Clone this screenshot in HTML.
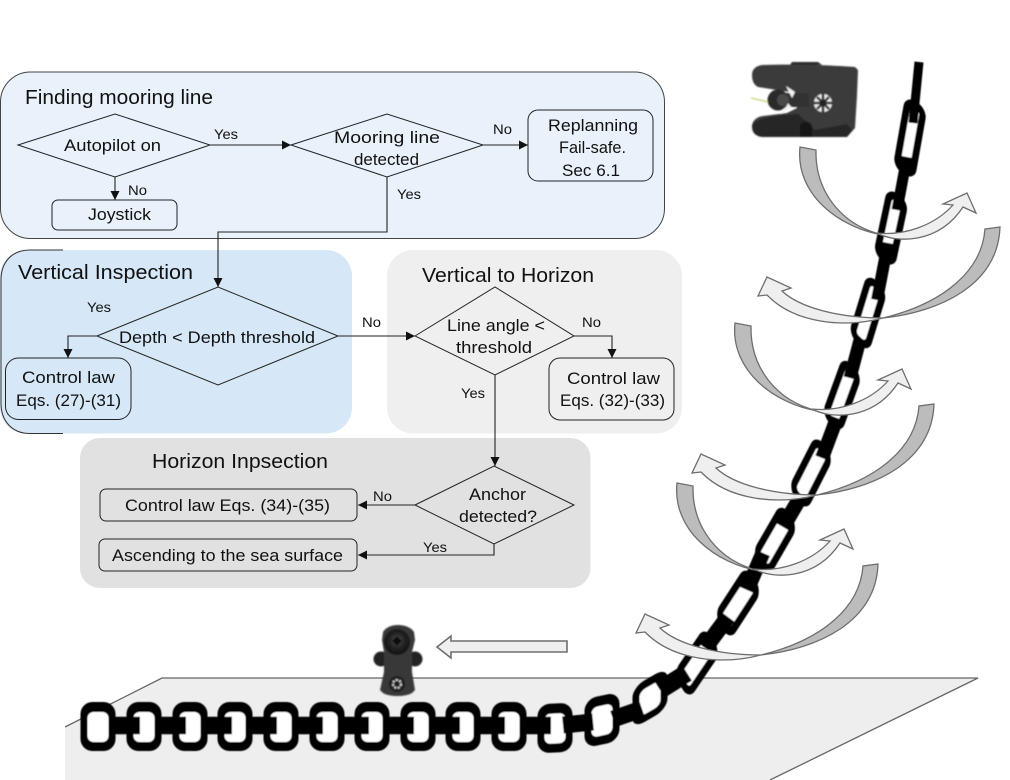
<!DOCTYPE html>
<html><head><meta charset="utf-8"><style>
html,body{margin:0;padding:0;background:#fff;width:1010px;height:780px;overflow:hidden}
svg{display:block}
text{font-family:"Liberation Sans",sans-serif;fill:#111}
.t{font-size:20px}.b{font-size:17px}.s{font-size:14px}
</style></head><body>
<svg width="1010" height="780" viewBox="0 0 1010 780" xmlns="http://www.w3.org/2000/svg">
<defs>
<marker id="a" markerWidth="10" markerHeight="10" refX="9" refY="4.5" orient="auto" markerUnits="userSpaceOnUse"><path d="M0,0L9,4.500L0,9Z" fill="#111"/></marker>
<filter id="soft" x="-5%" y="-5%" width="110%" height="110%"><feGaussianBlur stdDeviation="0.55"/></filter>
<filter id="soft2" x="-10%" y="-10%" width="120%" height="120%"><feGaussianBlur stdDeviation="0.7"/></filter>
<radialGradient id="cam" cx="50%" cy="45%" r="55%"><stop offset="0" stop-color="#5a5a5a"/><stop offset="0.5" stop-color="#242424"/><stop offset="1" stop-color="#111"/></radialGradient>
<g id="hl">
<rect x="-17.500" y="-24.500" width="35" height="49" rx="12" fill="#000"/>
<rect x="-10.500" y="-14.500" width="21" height="30" rx="6" fill="#fff"/>
</g>
<g id="arrowR">
<path d="M883,235C840,228 795,195 800,147L816,150C815,190 840,225 883,235Z" fill="#bcbcbc" stroke="#6e6e6e" stroke-width="1.300"/>
<path d="M877,233C895,243 938,245 963,207L976,213L967,193L943,204L953,205C935,225 905,236 877,233Z" fill="#efefef" stroke="#6e6e6e" stroke-width="1.300"/>
</g>
<g id="arrowL">
<path d="M883,318C940,312 998,285 1000,227L985,229C982,270 945,303 883,318Z" fill="#bcbcbc" stroke="#6e6e6e" stroke-width="1.300"/>
<path d="M883,318C845,328 795,324 767,295L758,296L767,277L791,288L782,291C800,308 840,318 883,318Z" fill="#efefef" stroke="#6e6e6e" stroke-width="1.300"/>
</g>
</defs>

<!-- floor -->
<path d="M65,727L162,678H978L770,780H65Z" fill="#eeeeee"/>
<path d="M65,727L162,678H978L770,780" fill="none" stroke="#666" stroke-width="1.300"/>

<!-- panels -->
<rect x="0.500" y="72" width="664" height="166.500" rx="30" fill="#e9f2fa" stroke="#444" stroke-width="1"/>
<rect x="0" y="250" width="352" height="183.500" rx="26" fill="#d6e8f7"/>
<path d="M63,250H30C12,250 1,262 1,280V403C1,421 12,433.500 30,433.500H63" fill="none" stroke="#333" stroke-width="1"/>
<rect x="387" y="250" width="295" height="183.500" rx="26" fill="#efefef"/>
<rect x="80" y="438" width="510.500" height="150" rx="20" fill="#e1e1e1"/>

<!-- connectors -->
<g fill="none" stroke="#222" stroke-width="1.100">
<path d="M210,145H291" marker-end="url(#a)"/>
<path d="M483,145H528" marker-end="url(#a)"/>
<path d="M115,177V200" marker-end="url(#a)"/>
<path d="M387,177V232H218V287" marker-end="url(#a)"/>
<path d="M97,336H68V358" marker-end="url(#a)"/>
<path d="M338,336H415" marker-end="url(#a)"/>
<path d="M574,336H612V358" marker-end="url(#a)"/>
<path d="M495,375V466" marker-end="url(#a)"/>
<path d="M415,505H358" marker-end="url(#a)"/>
<path d="M494,544V555H358" marker-end="url(#a)"/>
</g>

<!-- diamonds and boxes -->
<g fill="none" stroke="#222" stroke-width="1">
<path d="M18,145L115,114L210,145L115,177Z"/>
<path d="M291,145L387,114L483,145L387,177Z"/>
<path d="M97,336L218,287L338,336L218,385Z"/>
<path d="M415,336L495,287L574,336L495,375Z"/>
<path d="M415,505L494,466L574,505L494,544Z"/>
<rect x="52" y="200" width="125" height="30" rx="6"/>
<rect x="528" y="110" width="125" height="71" rx="10"/>
<rect x="5.500" y="358" width="125.500" height="61.500" rx="13"/>
<rect x="549" y="358" width="125" height="62" rx="11"/>
<rect x="100" y="489" width="257" height="32" rx="6"/>
<rect x="99" y="539" width="258" height="32" rx="6"/>
</g>

<!-- titles -->
<text class="t" x="25" y="104" textLength="188" lengthAdjust="spacingAndGlyphs">Finding mooring line</text>
<text class="t" x="18" y="279" textLength="175" lengthAdjust="spacingAndGlyphs">Vertical Inspection</text>
<text class="t" x="422" y="282" textLength="172" lengthAdjust="spacingAndGlyphs">Vertical to Horizon</text>
<text class="t" x="152" y="468" textLength="176" lengthAdjust="spacingAndGlyphs">Horizon Inpsection</text>

<!-- node labels -->
<text class="b" x="64" y="151" textLength="97" lengthAdjust="spacingAndGlyphs">Autopilot on</text>
<text class="b" x="334" y="143" textLength="106" lengthAdjust="spacingAndGlyphs">Mooring line</text>
<text class="b" x="354" y="165" textLength="65" lengthAdjust="spacingAndGlyphs">detected</text>
<text class="b" x="548" y="131" textLength="90" lengthAdjust="spacingAndGlyphs">Replanning</text>
<text class="b" x="559" y="153" textLength="67" lengthAdjust="spacingAndGlyphs">Fail-safe.</text>
<text class="b" x="562" y="176" textLength="58" lengthAdjust="spacingAndGlyphs">Sec 6.1</text>
<text class="b" x="88" y="220" textLength="63" lengthAdjust="spacingAndGlyphs">Joystick</text>
<text class="b" x="119" y="343" textLength="196" lengthAdjust="spacingAndGlyphs">Depth &lt; Depth threshold</text>
<text class="b" x="22" y="383" textLength="93" lengthAdjust="spacingAndGlyphs">Control law</text>
<text class="b" x="16" y="406" textLength="105" lengthAdjust="spacingAndGlyphs">Eqs. (27)-(31)</text>
<text class="b" x="447" y="331" textLength="98" lengthAdjust="spacingAndGlyphs">Line angle &lt;</text>
<text class="b" x="456" y="353" textLength="76" lengthAdjust="spacingAndGlyphs">threshold</text>
<text class="b" x="567" y="384" textLength="93" lengthAdjust="spacingAndGlyphs">Control law</text>
<text class="b" x="560" y="406" textLength="105" lengthAdjust="spacingAndGlyphs">Eqs. (32)-(33)</text>
<text class="b" x="469" y="500" textLength="57" lengthAdjust="spacingAndGlyphs">Anchor</text>
<text class="b" x="459" y="522" textLength="78" lengthAdjust="spacingAndGlyphs">detected?</text>
<text class="b" x="125" y="511" textLength="205" lengthAdjust="spacingAndGlyphs">Control law Eqs. (34)-(35)</text>
<text class="b" x="112" y="561" textLength="231" lengthAdjust="spacingAndGlyphs">Ascending to the sea surface</text>

<!-- connector labels -->
<text class="s" x="214" y="139" textLength="24" lengthAdjust="spacingAndGlyphs">Yes</text>
<text class="s" x="128" y="195" textLength="19" lengthAdjust="spacingAndGlyphs">No</text>
<text class="s" x="493" y="134" textLength="19" lengthAdjust="spacingAndGlyphs">No</text>
<text class="s" x="397" y="199" textLength="24" lengthAdjust="spacingAndGlyphs">Yes</text>
<text class="s" x="87" y="312" textLength="24" lengthAdjust="spacingAndGlyphs">Yes</text>
<text class="s" x="362" y="327" textLength="19" lengthAdjust="spacingAndGlyphs">No</text>
<text class="s" x="582" y="327" textLength="19" lengthAdjust="spacingAndGlyphs">No</text>
<text class="s" x="461" y="398" textLength="24" lengthAdjust="spacingAndGlyphs">Yes</text>
<text class="s" x="373" y="501" textLength="19" lengthAdjust="spacingAndGlyphs">No</text>
<text class="s" x="423" y="552" textLength="24" lengthAdjust="spacingAndGlyphs">Yes</text>

<!-- chain -->
<g filter="url(#soft)">
<use href="#hl" transform="translate(98,726.500)"/>
<use href="#hl" transform="translate(144,726.500)"/>
<use href="#hl" transform="translate(190,726.500)"/>
<use href="#hl" transform="translate(235,726.500)"/>
<use href="#hl" transform="translate(281,726.500)"/>
<use href="#hl" transform="translate(327,726.500)"/>
<use href="#hl" transform="translate(372,726.500)"/>
<use href="#hl" transform="translate(418,726.500)"/>
<use href="#hl" transform="translate(463,726.500)"/>
<use href="#hl" transform="translate(509,726.500)"/>
<use href="#hl" transform="translate(555,728) skewY(-3)"/>
<use href="#hl" transform="translate(602,720) skewY(-12)"/>
<use href="#hl" transform="translate(650,698) skewY(-30) scale(1,0.85)"/>
<g fill="#fff" stroke="#000" stroke-width="7">
<rect x="-10.500" y="-25" width="21" height="50" rx="7" transform="translate(697,663) rotate(34) skewY(25)"/>
<rect x="-10.500" y="-26" width="21" height="52" rx="7" transform="translate(738,603) rotate(33) skewY(25)"/>
<rect x="-10" y="-26" width="20" height="52" rx="7" transform="translate(775,540) rotate(30) skewY(25)"/>
<rect x="-10" y="-27" width="20" height="54" rx="7" transform="translate(811,473) rotate(27) skewY(25)"/>
<rect x="-9" y="-28" width="18" height="56" rx="7" transform="translate(842,395) rotate(20) skewY(25)"/>
<rect x="-9" y="-29" width="18" height="58" rx="7" transform="translate(868,313) rotate(17) skewY(25)"/>
<rect x="-8.500" y="-31" width="17" height="62" rx="7" transform="translate(891,228) rotate(12) skewY(22)"/>
<rect x="-8.500" y="-33" width="17" height="66" rx="7" transform="translate(910,138) rotate(10) skewY(22)"/>
</g>
<g fill="none" stroke="#000" stroke-linecap="butt">
<path d="M109,725.500H140M155,725.500H186M201,725.500H232M246,725.500H277M292,725.500H323M338,725.500H369M383,725.500H414M429,725.500H460M474,725.500H505M520,725.500H551" stroke-width="17.500"/>
<path d="M563,725L593,722" stroke-width="17"/>
<path d="M613,719L642,709" stroke-width="17"/>
<path d="M660,690L687,673" stroke-width="18"/>
<path d="M705,648L728,617" stroke-width="16"/>
<path d="M747,590L763,553" stroke-width="15"/>
<path d="M783,527L800,498" stroke-width="15"/>
<path d="M822,458L837,418" stroke-width="14"/>
<path d="M850,378L860,340" stroke-width="13"/>
<path d="M877,300L888,243" stroke-width="12"/>
<path d="M897,210L907,157" stroke-width="11"/>
<path d="M913,123L919,62" stroke-width="9"/>
</g>
</g>

<!-- swirl arrows -->
<use href="#arrowR"/>
<use href="#arrowR" transform="translate(-65,176)"/>
<use href="#arrowR" transform="translate(-123,336)"/>
<use href="#arrowL"/>
<use href="#arrowL" transform="translate(-66,177)"/>
<use href="#arrowL" transform="translate(-122,337)"/>

<!-- motion arrow -->
<path d="M567,641V652H451V658L437,647L451,636V641Z" fill="#efefef" stroke="#6e6e6e" stroke-width="1.600"/>

<!-- top ROV -->
<g filter="url(#soft2)">
<path d="M790,65L792,62H818L822,65Z" fill="#2a2a2a"/>
<path d="M762,65C790,64 830,65 855,67L858,70L857,95L855,128L847,137H764C756,137 752,133 752,127C752,121 756,117 763,116L787,113L797,108V94L790,92L758,87C754,85 752,81 752,75C752,69 756,66 762,65Z" fill="#3a3a3a"/>
<path d="M752,125C758,116 785,115 798,114L815,130L847,124L852,130L847,137H764C756,137 752,132 752,125Z" fill="#262626"/>
<path d="M800,137V127C800,120 812,120 812,127V137Z" fill="#161616"/>
<rect x="785" y="93" width="24" height="14" fill="#333"/>
<path d="M786,86L795,92L792,98Z M780,114L792,108L788,103Z" fill="#f4f4f4"/>
<circle cx="778" cy="100" r="10.500" fill="#2b2b2b"/>
<circle cx="783" cy="100" r="6" fill="#4a4a4a"/>
<path d="M751,98L768,102" stroke="#b5c94d" stroke-width="1"/>
<circle cx="823" cy="103" r="9" fill="#eee"/>
<path d="M823,94V112M814,103H832M817,97L829,109M829,97L817,109" stroke="#222" stroke-width="2.600"/>
<circle cx="823" cy="103" r="2.500" fill="#222"/>
</g>

<!-- bottom ROV -->
<g filter="url(#soft2)">
<circle cx="381" cy="659" r="7.500" fill="#222"/>
<circle cx="415" cy="659" r="7.500" fill="#222"/>
<path d="M383,632C386,627 392,625 398,625C404,625 411,627 414,632L415,640L412,652V672L415,690L412,693C405,697 390,697 383,693L380,690L384,672V652L382,640Z" fill="#383838"/>
<circle cx="397" cy="642" r="13" fill="url(#cam)"/>
<path d="M392,641L397,636L402,641L397,646Z" fill="#0d0d0d"/>
<circle cx="397" cy="684" r="8" fill="#1f1f1f"/>
<circle cx="397" cy="684" r="4" fill="none" stroke="#ddd" stroke-width="2" stroke-dasharray="2 1.500"/>
</g>
</svg>
</body></html>
